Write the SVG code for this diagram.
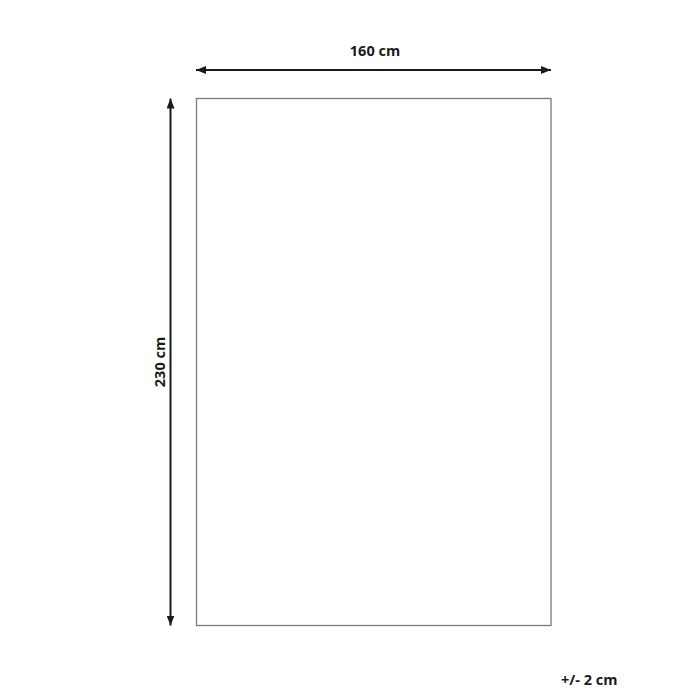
<svg xmlns="http://www.w3.org/2000/svg" width="700" height="700" viewBox="0 0 700 700">
<style>
.lbl{font-family:"Open Sans","Liberation Sans",sans-serif;font-weight:bold;font-size:14.5px;fill:#1a1a1a}
.dim{stroke:#1a1a1a;stroke-width:2;fill:none}
</style>
<defs>
<marker id="ah" viewBox="0 0 10 8" refX="10" refY="4" markerWidth="10" markerHeight="8" markerUnits="userSpaceOnUse" orient="auto-start-reverse">
<path d="M0,0 L10,4 L0,8 Z" fill="#1a1a1a"/>
</marker>
</defs>
<rect width="700" height="700" fill="#fff"/>
<g id="rug">
<rect x="196.5" y="98.5" width="354.5" height="527" fill="#fff" stroke="#7a7a7a" stroke-width="1.3"/>
</g>
<g id="connectors">
<line class="dim" x1="196" y1="70" x2="551" y2="70" marker-start="url(#ah)" marker-end="url(#ah)"/>
<line class="dim" x1="170.5" y1="98.5" x2="170.5" y2="625.5" marker-start="url(#ah)" marker-end="url(#ah)"/>
</g>
<g id="labels">
<text class="lbl" x="375" y="56" text-anchor="middle">160 cm</text>
<text class="lbl" transform="translate(165,362) rotate(-90)" text-anchor="middle">230 cm</text>
<text class="lbl" x="561" y="685">+/- 2 cm</text>
</g>
</svg>
